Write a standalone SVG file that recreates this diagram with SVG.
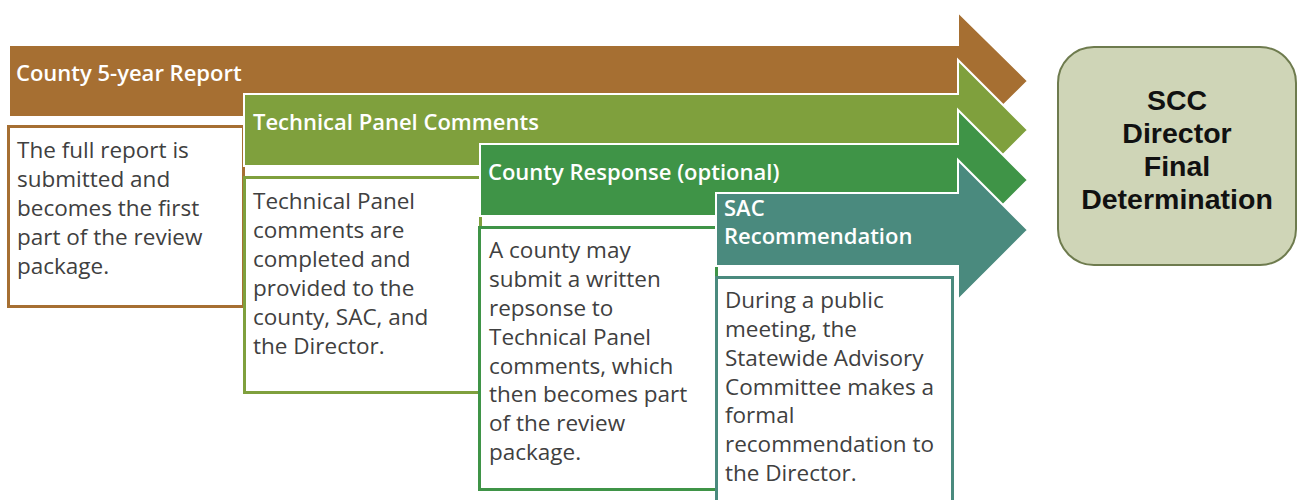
<svg xmlns="http://www.w3.org/2000/svg" width="1297" height="500" viewBox="0 0 1297 500">
<style>
.arrow{stroke:#ffffff;stroke-width:2;stroke-linejoin:miter}
.hdr{font-family:"Open Sans","Liberation Sans",sans-serif;font-size:22px;font-weight:600;fill:#ffffff}
.desc{font-family:"Open Sans","Liberation Sans",sans-serif;font-size:22.5px;fill:#404040}
.box{fill:#ffffff;stroke-width:3}
.scc{font-family:"Liberation Sans",Arial,sans-serif;font-size:28.5px;font-weight:bold;fill:#111111;text-anchor:middle}
</style>
<rect width="1297" height="500" fill="#ffffff"/>
<g id="connectors"></g>
<g id="county-report">
  <path class="arrow" fill="#A66F32" d="M9,45 H958 V12 L1028,81 L958,150 V117 H9 Z"/>
  <text class="hdr" x="16" y="81">County 5-year Report</text>
</g>
<g id="county-report-desc">
  <rect class="box" stroke="#A66F32" x="8.5" y="126.5" width="235" height="180"/>
  <text class="desc"><tspan x="17" y="158">The full report is</tspan><tspan x="17" y="187">submitted and</tspan><tspan x="17" y="216">becomes the first</tspan><tspan x="17" y="245">part of the review</tspan><tspan x="17" y="274">package.</tspan></text>
</g>
<g id="technical-panel">
  <path class="arrow" fill="#7FA03D" d="M244,94 H958 V60 L1028,130 L958,200 V166 H244 Z"/>
  <text class="hdr" x="253" y="130">Technical Panel Comments</text>
</g>
<g id="technical-panel-desc">
  <rect class="box" stroke="#7FA03D" x="244.5" y="177.5" width="236" height="215"/>
  <text class="desc"><tspan x="253" y="209">Technical Panel</tspan><tspan x="253" y="238">comments are</tspan><tspan x="253" y="267">completed and</tspan><tspan x="253" y="296">provided to the</tspan><tspan x="253" y="325">county, SAC, and</tspan><tspan x="253" y="354">the Director.</tspan></text>
</g>
<g id="county-response">
  <path class="arrow" fill="#3F9447" d="M480,144 H958 V110 L1028,180 L958,250 V216 H480 Z"/>
  <text class="hdr" x="488" y="180">County Response (optional)</text>
</g>
<g id="county-response-desc">
  <rect class="box" stroke="#3F9447" x="479.5" y="227.5" width="237" height="262"/>
  <text class="desc"><tspan x="489" y="258">A county may</tspan><tspan x="489" y="287">submit a written</tspan><tspan x="489" y="316">repsonse to</tspan><tspan x="489" y="345">Technical Panel</tspan><tspan x="489" y="374">comments, which</tspan><tspan x="489" y="402">then becomes part</tspan><tspan x="489" y="431">of the review</tspan><tspan x="489" y="460">package.</tspan></text>
</g>
<g id="sac-recommendation">
  <path class="arrow" fill="#4A8A7E" d="M716,193 H958 V160 L1028,230 L958,300 V266 H716 Z"/>
  <text class="hdr"><tspan x="724" y="216">SAC</tspan><tspan x="724" y="244">Recommendation</tspan></text>
</g>
<g id="sac-recommendation-desc">
  <rect class="box" stroke="#4A8A7E" x="716.5" y="277.5" width="236" height="240"/>
  <text class="desc"><tspan x="725" y="308">During a public</tspan><tspan x="725" y="337">meeting, the</tspan><tspan x="725" y="366">Statewide Advisory</tspan><tspan x="725" y="395">Committee makes a</tspan><tspan x="725" y="423">formal</tspan><tspan x="725" y="452">recommendation to</tspan><tspan x="725" y="481">the Director.</tspan></text>
</g>
<g id="scc-director">
  <rect x="1058" y="47" width="238" height="218" rx="36" ry="36" fill="#CFD5B7" stroke="#6E7B4E" stroke-width="2"/>
  <text class="scc"><tspan x="1177" y="110">SCC</tspan><tspan x="1177" y="143">Director</tspan><tspan x="1177" y="176">Final</tspan><tspan x="1177" y="209">Determination</tspan></text>
</g>
</svg>
